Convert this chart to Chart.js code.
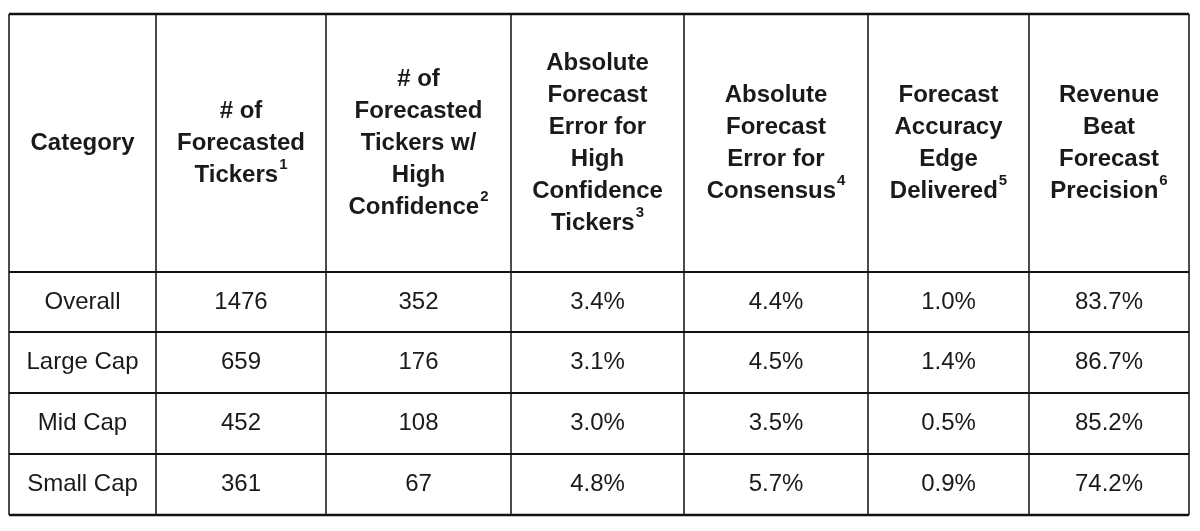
<!DOCTYPE html>
<html>
<head>
<meta charset="utf-8">
<script src="https://cdn.jsdelivr.net/npm/chart.js@4/dist/chart.umd.min.js"></script>
<style>
html,body{margin:0;padding:0;background:#fff;font-family:"Liberation Sans",Arial,sans-serif;}
#wrap{width:1200px;height:531px;}
</style>
</head>
<body>
<div id="wrap"><canvas id="tbl"></canvas></div>
<script>
// table contents
const headers = [
  [['Category']],
  [['# of'], ['Forecasted'], ['Tickers', '1']],
  [['# of'], ['Forecasted'], ['Tickers w/'], ['High'], ['Confidence', '2']],
  [['Absolute'], ['Forecast'], ['Error for'], ['High'], ['Confidence'], ['Tickers', '3']],
  [['Absolute'], ['Forecast'], ['Error for'], ['Consensus', '4']],
  [['Forecast'], ['Accuracy'], ['Edge'], ['Delivered', '5']],
  [['Revenue'], ['Beat'], ['Forecast'], ['Precision', '6']]
];
const categories = ['Overall', 'Large Cap', 'Mid Cap', 'Small Cap'];
const forecastedTickers = [1476, 659, 452, 361];
const highConfTickers = [352, 176, 108, 67];
const errHighConf = ['3.4%', '3.1%', '3.0%', '4.8%'];
const errConsensus = ['4.4%', '4.5%', '3.5%', '5.7%'];
const accuracyEdge = ['1.0%', '1.4%', '0.5%', '0.9%'];
const beatPrecision = ['83.7%', '86.7%', '85.2%', '74.2%'];

// grid layout (page units)
const colEdges = [9, 156, 326, 511, 684, 868, 1029, 1189];
const rowEdges = [14, 272, 332, 393, 454, 515];

const FONT = '"Liberation Sans", Arial, Helvetica, sans-serif';

const rows = categories.map((c, i) => [c, String(forecastedTickers[i]), String(highConfTickers[i]),
  errHighConf[i], errConsensus[i], accuracyEdge[i], beatPrecision[i]]);

const tablePlugin = {
  id: 'tablePlugin',
  afterDraw(chart) {
    const ctx = chart.ctx, xs = chart.scales.x, ys = chart.scales.y;
    const X = v => xs.getPixelForValue(v), Y = v => ys.getPixelForValue(v);
    ctx.save();
    ctx.strokeStyle = '#111';
    ctx.lineWidth = 1.5;
    colEdges.forEach(c => { ctx.beginPath(); ctx.moveTo(X(c), Y(rowEdges[0])); ctx.lineTo(X(c), Y(rowEdges[rowEdges.length - 1])); ctx.stroke(); });
    rowEdges.forEach((r, i) => {
      ctx.lineWidth = (i === 0 || i === rowEdges.length - 1) ? 2.5 : 2;
      ctx.beginPath(); ctx.moveTo(X(colEdges[0]), Y(r)); ctx.lineTo(X(colEdges[colEdges.length - 1]), Y(r)); ctx.stroke();
    });
    ctx.fillStyle = '#1a1a1a';
    ctx.textBaseline = 'middle';
    const lh = 32;
    const mid = (rowEdges[0] + rowEdges[1]) / 2;
    headers.forEach((lines, c) => {
      const cx = (colEdges[c] + colEdges[c + 1]) / 2;
      const y0 = mid - (lines.length - 1) * lh / 2;
      lines.forEach((ln, k) => {
        const y = Y(y0 + k * lh);
        ctx.font = 'bold 24px ' + FONT;
        const w = ctx.measureText(ln[0]).width;
        ctx.font = 'bold 15px ' + FONT;
        const sw = ln[1] ? ctx.measureText(ln[1]).width + 1 : 0;
        const left = X(cx) - (w + sw) / 2;
        ctx.textAlign = 'left';
        ctx.font = 'bold 24px ' + FONT;
        ctx.fillText(ln[0], left, y);
        if (ln[1]) {
          ctx.font = 'bold 15px ' + FONT;
          ctx.fillText(ln[1], left + w + 1, y - 10);
        }
      });
    });
    ctx.font = '24px ' + FONT;
    ctx.textAlign = 'center';
    rows.forEach((r, i) => {
      const cy = (rowEdges[i + 1] + rowEdges[i + 2]) / 2;
      r.forEach((txt, c) => {
        ctx.fillText(txt, X((colEdges[c] + colEdges[c + 1]) / 2), Y(cy));
      });
    });
    ctx.restore();
  }
};

function build() {
  new Chart(document.getElementById('tbl'), {
    type: 'scatter',
    data: { datasets: [{ data: [] }] },
    options: {
      responsive: true,
      maintainAspectRatio: false,
      animation: false,
      layout: { padding: 0 },
      plugins: { legend: { display: false }, tooltip: { enabled: false } },
      scales: {
        x: { type: 'linear', min: 0, max: 1200, display: false },
        y: { type: 'linear', min: 0, max: 531, reverse: true, display: false }
      }
    },
    plugins: [tablePlugin]
  });
}

Promise.all([
  document.fonts.load('24px "Liberation Sans"'),
  document.fonts.load('bold 24px "Liberation Sans"')
]).then(build, build);
</script>
</body>
</html>
